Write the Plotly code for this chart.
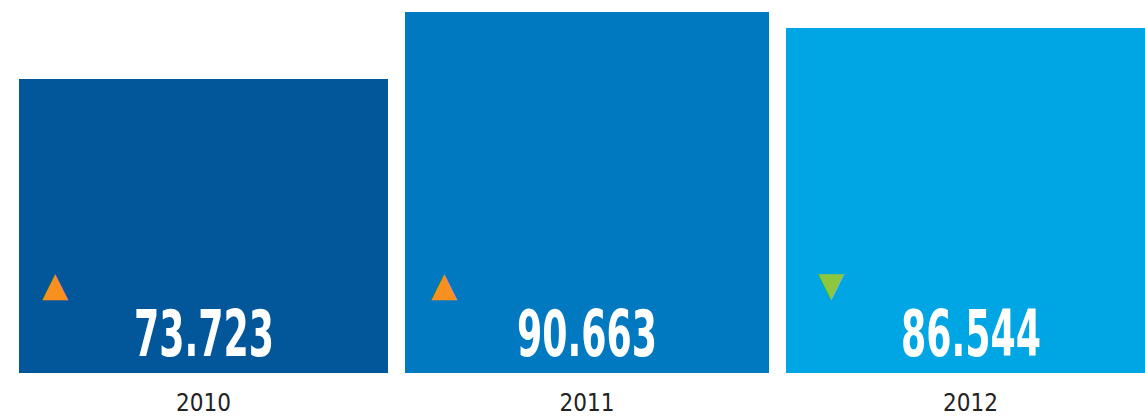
import plotly.graph_objects as go

years = ["2010", "2011", "2012"]
values = [73.723, 90.663, 86.544]
trend = ["up", "up", "down"]
bar_colors = ["#02569A", "#0079C1", "#00A6E3"]
value_labels = ["73.723", "90.663", "86.544"]

# styling / layout constants
bar_widths = [0.962, 0.949, 0.96]
arrow_xshift = [-148, -143, -139]
W, H = 1145, 417
FONT = "DejaVu Sans Condensed, DejaVu Sans, sans-serif"

fig = go.Figure()
fig.add_trace(go.Bar(
    x=years, y=values, width=bar_widths,
    marker=dict(color=bar_colors, line=dict(width=0)),
    hoverinfo="skip", showlegend=False,
))

annotations = []
for i, (v, lab, t) in enumerate(zip(values, value_labels, trend)):
    annotations.append(dict(
        x=i, y=0, xref="x", yref="y", text="<b>" + lab + "</b>", showarrow=False,
        yanchor="bottom", yshift=0,
        font=dict(family=FONT, size=64, color="white"),
    ))
    annotations.append(dict(
        x=i, y=0, xref="x", yref="y",
        text="▲" if t == "up" else "▼", showarrow=False,
        xanchor="center", yanchor="bottom", xshift=arrow_xshift[i], yshift=67,
        font=dict(family="DejaVu Sans", size=34,
                  color="#F7901E" if t == "up" else "#8DC63F"),
    ))

# center of first bar at x=203.5 px, category spacing 383.5 px
x0 = -203.5 / 383.5
x1 = x0 + W / 383.5

fig.update_layout(
    width=W, height=H,
    margin=dict(l=0, r=0, t=0, b=44, autoexpand=False),
    paper_bgcolor="white", plot_bgcolor="white",
    xaxis=dict(type="category", range=[x0, x1], showgrid=False, zeroline=False,
               showline=False, ticks="outside", ticklen=8, automargin=False,
               tickcolor="rgba(0,0,0,0)",
               tickfont=dict(family=FONT, size=24, color="#222222")),
    yaxis=dict(range=[0, 93.6], visible=False, showgrid=False, automargin=False),
    annotations=annotations,
    bargap=0,
)

post = """
document.body.style.margin='0';
document.body.style.overflow='hidden';
var gd = document.getElementById('{plot_id}');
function sq(){
  gd.querySelectorAll('.annotation-text').forEach(function(t){
    if (/\\d/.test(t.textContent)) {
      t.style.transformBox='fill-box';
      t.style.transformOrigin='center';
      t.style.transform='scaleX(0.63)';
    }
  });
}
sq();
if (gd.on) { gd.on('plotly_afterplot', sq); }
"""
fig.write_html("out.html", post_script=post, config={"displayModeBar": False})
